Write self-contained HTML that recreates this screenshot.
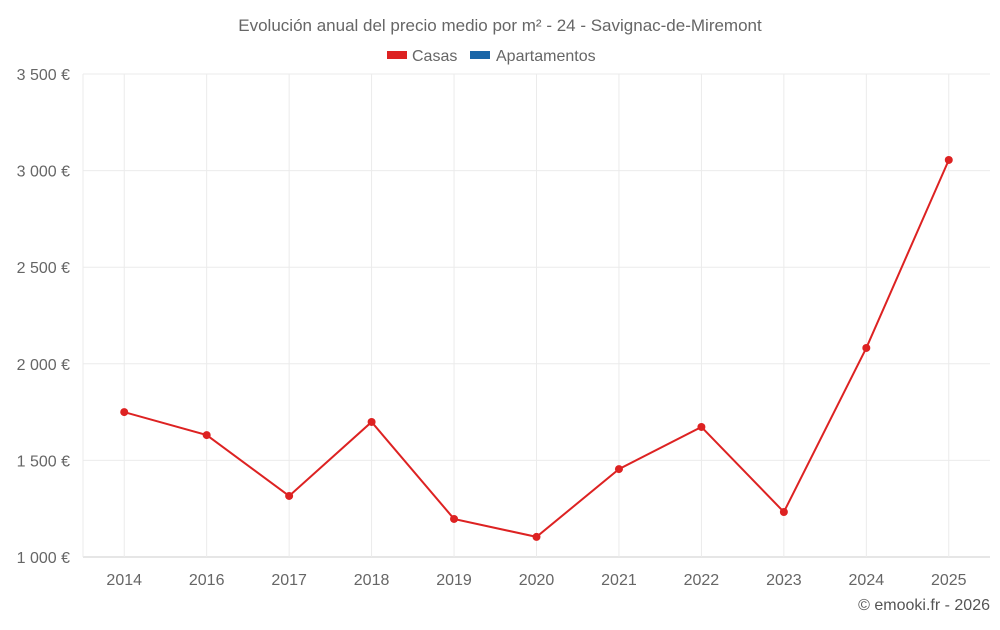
<!DOCTYPE html>
<html><head><meta charset="utf-8"><style>
body{margin:0;background:#fff;width:1000px;height:625px;overflow:hidden;font-family:"Liberation Sans",sans-serif}
</style></head><body>
<svg id="chart" width="1000" height="625" xmlns="http://www.w3.org/2000/svg">
<text x="500" y="31" text-anchor="middle" font-size="17" fill="#666">Evolución anual del precio medio por m² - 24 - Savignac-de-Miremont</text>
<g>
<g><rect x="387" y="51" width="20" height="8" fill="#dd2222"/><text x="412" y="61" font-size="16" fill="#666">Casas</text></g>
<g><rect x="470" y="51" width="20" height="8" fill="#1a66a8"/><text x="496" y="61" font-size="16" fill="#666">Apartamentos</text></g>
</g>
<g id="grid"></g><g id="axes"></g><g id="series"></g>
<text x="990" y="610" text-anchor="end" font-size="16" fill="#555">© emooki.fr - 2026</text>
</svg>
<script>
const categories=["2014","2016","2017","2018","2019","2020","2021","2022","2023","2024","2025"];
const casas=[1750,1631,1316,1699,1197,1104,1455,1673,1233,2082,3055];
const apartamentos=[];
const yTicks=[1000,1500,2000,2500,3000,3500];
const yTickLabels=["1 000 €","1 500 €","2 000 €","2 500 €","3 000 €","3 500 €"];
const NS="http://www.w3.org/2000/svg";
const L=83,R=990,T=74,B=557,ymin=1000,ymax=3500;
const step=(R-L)/categories.length;
function x(i){return L+step*(i+0.5);}
function y(v){return B-(v-ymin)/(ymax-ymin)*(B-T);}
function mk(tag,attrs,parent){const e=document.createElementNS(NS,tag);for(const k in attrs)e.setAttribute(k,attrs[k]);parent.appendChild(e);return e;}
const grid=document.getElementById('grid'),axes=document.getElementById('axes'),series=document.getElementById('series');
yTicks.forEach((v,i)=>{
 const l=mk('line',{x1:L,x2:R,y1:y(v),y2:y(v),stroke:i==0?'#ccc':'#ebebeb'},grid);
 
 
 const t=mk('text',{x:70,y:y(v)+6,'text-anchor':'end','font-size':'16',fill:'#666'},axes);
 t.textContent=yTickLabels[i];
 
 
});
const lg=mk('line',{x1:L,x2:L,y1:T,y2:B,stroke:'#ebebeb'},grid);


categories.forEach((c,i)=>{
 const l=mk('line',{x1:x(i),x2:x(i),y1:T,y2:B,stroke:'#ebebeb'},grid);
 
 
 const t=mk('text',{x:x(i),y:585,'text-anchor':'middle','font-size':'16',fill:'#666'},axes);
 t.textContent=c;
 
 
});
const pts=casas.map((v,i)=>x(i)+','+y(v)).join(' ');
const pl=mk('polyline',{points:pts,fill:'none',stroke:'#dd2222','stroke-width':'2'},series);


casas.forEach((v,i)=>{
 const c=mk('circle',{cx:x(i),cy:y(v),r:4,fill:'#dd2222'},series);
 
 
});
</script>
</body></html>
